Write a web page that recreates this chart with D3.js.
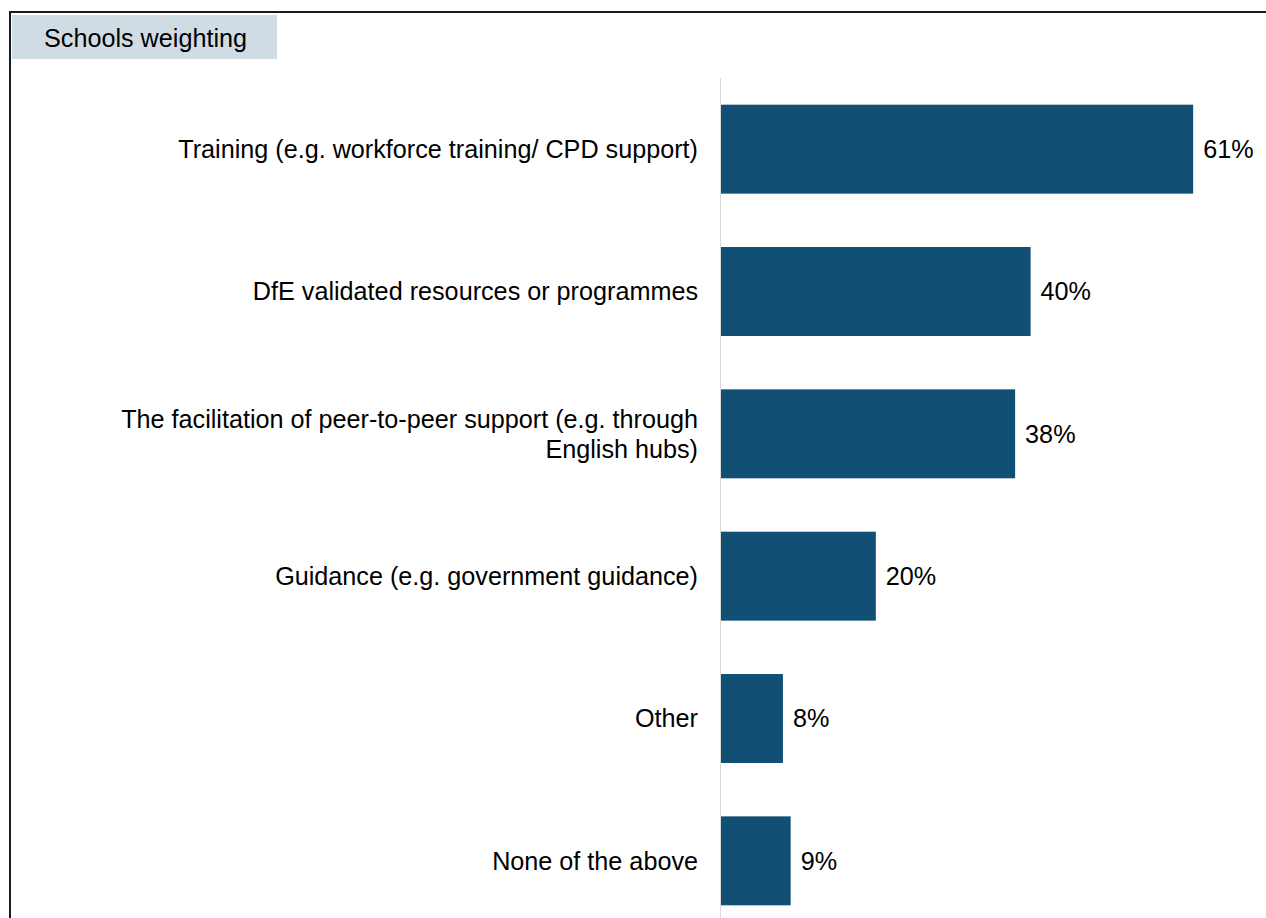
<!DOCTYPE html>
<html>
<head>
<meta charset="utf-8">
<script src="https://cdn.jsdelivr.net/npm/d3@7"></script>
<style>
  html, body { margin: 0; padding: 0; background: #ffffff; }
  svg { display: block; font-family: Arial, "Liberation Sans", sans-serif; }
</style>
</head>
<body>
<svg id="chart" width="1266" height="918"></svg>
<script>
// Share of schools naming each type of support (schools weighting)
const categories = [
  "Training (e.g. workforce training/ CPD support)",
  "DfE validated resources or programmes",
  "The facilitation of peer-to-peer support (e.g. through|English hubs)",
  "Guidance (e.g. government guidance)",
  "Other",
  "None of the above"
];
const values = [61, 40, 38, 20, 8, 9];
const panelTitle = "Schools weighting";

const svg = d3.select("#chart");
const W = 1266, H = 918;
const barColor = "#114f74";
const fontSize = 25.2;

// Frame lines (top and left)
svg.append("line").attr("x1", 10).attr("x2", W).attr("y1", 12).attr("y2", 12)
  .attr("stroke", "#1a1a1a").attr("stroke-width", 2);
svg.append("line").attr("x1", 10).attr("x2", 10).attr("y1", 11).attr("y2", H)
  .attr("stroke", "#1a1a1a").attr("stroke-width", 2);

// Panel title tab
svg.append("rect").attr("x", 12).attr("y", 15).attr("width", 265).attr("height", 44)
  .attr("fill", "#d0dce4");
svg.append("text").attr("x", 44).attr("y", 47)
  .attr("font-size", fontSize).attr("fill", "#000").text(panelTitle);

// Scales
const x0 = 721;
const x = d3.scaleLinear().domain([0, 70]).range([x0, x0 + 541.8]);
const y = d3.scaleBand().domain(categories).range([78, 932])
  .paddingInner(0.375).paddingOuter(0.1875);

// Category axis line
svg.append("line").attr("x1", 720.5).attr("x2", 720.5).attr("y1", 78).attr("y2", H)
  .attr("stroke", "#d9d9d9").attr("stroke-width", 1);

// Bars
svg.selectAll("rect.bar").data(categories).join("rect")
  .attr("class", "bar")
  .attr("x", x(0))
  .attr("y", d => y(d))
  .attr("width", (d, i) => x(values[i]) - x(0))
  .attr("height", y.bandwidth())
  .attr("fill", barColor);

// Value labels
svg.selectAll("text.val").data(categories).join("text")
  .attr("class", "val")
  .attr("x", (d, i) => x(values[i]) + 10)
  .attr("y", d => y(d) + y.bandwidth() / 2)
  .attr("dy", "0.35em")
  .attr("font-size", fontSize)
  .attr("fill", "#000")
  .text((d, i) => values[i] + "%");

// Category labels, right aligned; "|" marks a line break
const lineH = 30;
svg.selectAll("text.cat").data(categories).join("text")
  .attr("class", "cat")
  .attr("text-anchor", "end")
  .attr("font-size", fontSize)
  .attr("fill", "#000")
  .each(function(d) {
    const lines = d.split("|");
    const cy = y(d) + y.bandwidth() / 2;
    const top = cy - (lines.length - 1) * lineH / 2;
    d3.select(this).selectAll("tspan").data(lines).join("tspan")
      .attr("x", 698)
      .attr("y", (l, j) => top + j * lineH)
      .attr("dy", "0.35em")
      .text(l => l);
  });
</script>
</body>
</html>
